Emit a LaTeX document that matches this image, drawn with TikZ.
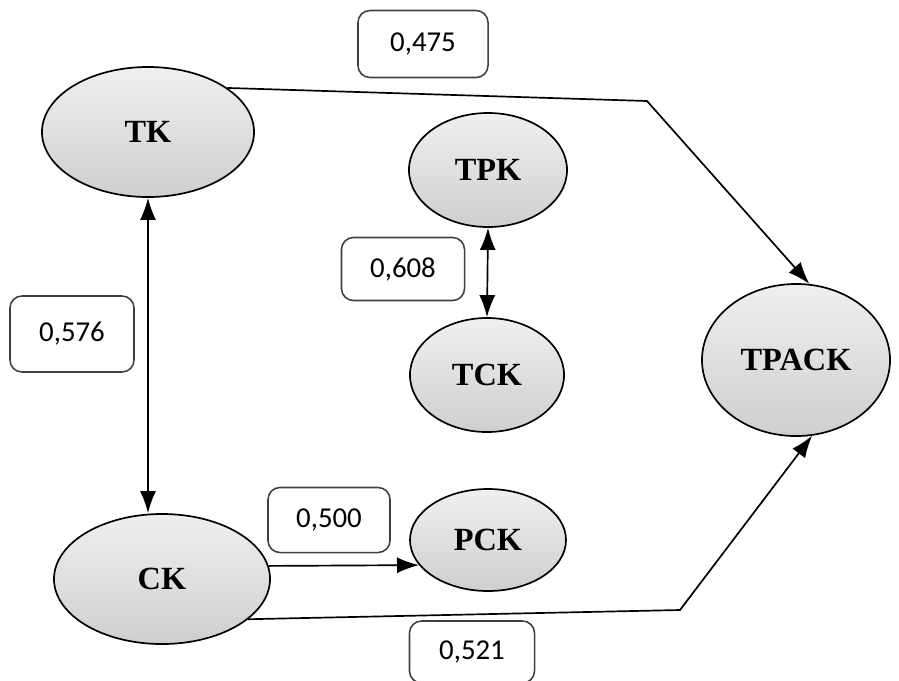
\documentclass[tikz,border=0pt]{standalone}
\usepackage{fontspec}
\usepackage{tikz}
\usetikzlibrary{shapes.geometric}
\usetikzlibrary{arrows.meta}
\newfontfamily\labelfont{Liberation Serif}
\newfontfamily\valuefont{Carlito}

\begin{document}
\begin{tikzpicture}[x=0.025cm, y=-0.025cm]
        % ================= styles =================
        \tikzset{
            knode/.style={ellipse, draw=black, line width=1.2pt, top color=gray!12, bottom color=gray!38,
                inner sep=0pt, font=\labelfont\fontsize{23}{25}\selectfont\bfseries},
            vbox/.style={rectangle, rounded corners=3mm, draw=black!75, line width=1.1pt, fill=white,
                inner sep=0pt, font=\valuefont\fontsize{20.5}{22}\selectfont},
            link/.style={line width=1.2pt, black},
            tip/.style={-{Latex[length=5.5mm, width=4mm]}},
            bitip/.style={{Latex[length=5.5mm, width=4mm]}-{Latex[length=5.5mm, width=4mm]}}
        }

        \useasboundingbox (0,0) rectangle (899,680);

        % ================= knowledge nodes =================
        \node[knode, minimum width=5.3cm, minimum height=3.25cm] (TK) at (148,132) {TK};
        \node[knode, minimum width=3.95cm, minimum height=2.85cm] (TPK) at (488,170) {TPK};
        \node[knode, minimum width=3.85cm, minimum height=2.85cm] (TCK) at (487,375) {TCK};
        \node[knode, minimum width=4.7cm, minimum height=3.8cm] (TPACK) at (796,360) {TPACK};
        \node[knode, minimum width=3.9cm, minimum height=2.55cm] (PCK) at (488,540) {PCK};
        \node[knode, minimum width=5.4cm, minimum height=3.25cm] (CK) at (162,579) {CK};

        % ================= value boxes =================
        \node[vbox, minimum width=3.25cm, minimum height=1.675cm] (v475) at (423,44) {0,475\hspace{4mm}};
        \node[vbox, minimum width=3.075cm, minimum height=1.575cm] (v608) at (403,269) {0,608\hspace{4mm}};
        \node[vbox, minimum width=3.1cm, minimum height=1.9cm] (v576) at (72,334) {0,576\hspace{4mm}};
        \node[vbox, minimum width=3.05cm, minimum height=1.625cm] (v500) at (329,520) {0,500};
        \node[vbox, minimum width=3.125cm, minimum height=1.55cm] (v521) at (472,652) {0,521\hspace{3mm}};

        % ================= connectors =================
        \coordinate (b1) at (647,101);
        \coordinate (b2) at (680,610);

        \draw[link, tip] (TK.29) -- (b1) -- (TPACK.80);
        \draw[link, tip] (CK.-25) -- (b2) -- (TPACK.-78);
        \draw[link, bitip] (TK.south) -- (TK.south |- CK.north);
        \draw[link, bitip] (TPK.south) -- (TCK.north);
        \draw[link, tip] (CK.7) -- (PCK.200);

    \end{tikzpicture}
\end{document}
